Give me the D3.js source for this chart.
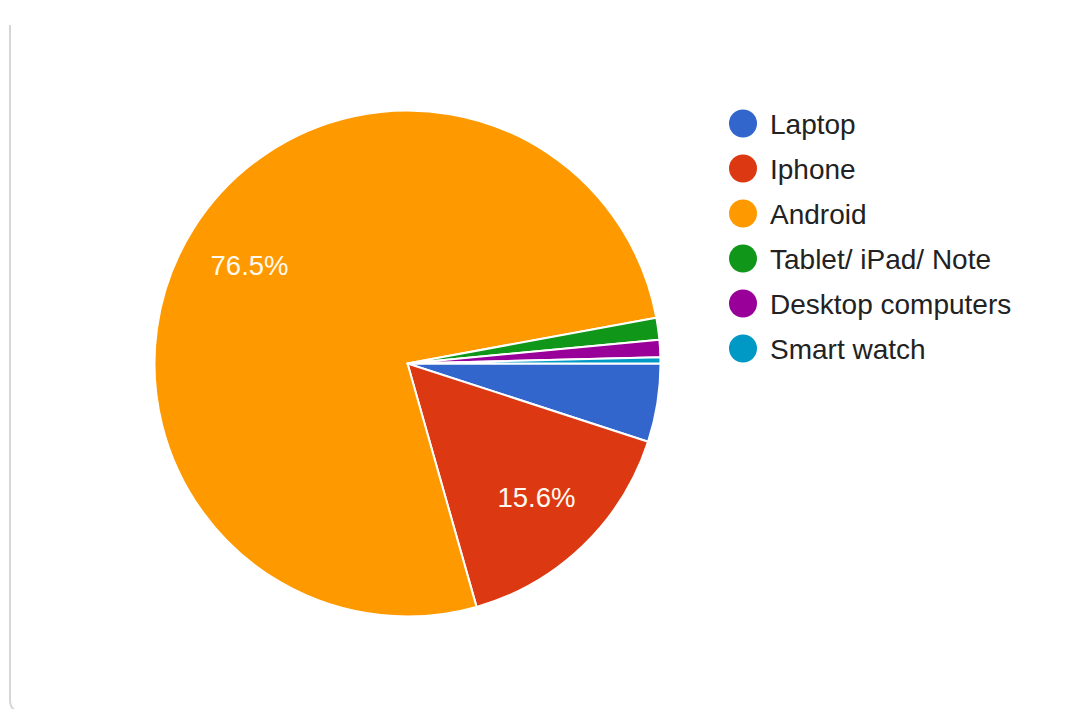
<!DOCTYPE html>
<html>
<head>
<meta charset="utf-8">
<script src="https://cdn.jsdelivr.net/npm/d3@7"></script>
<style>
  html, body { margin: 0; padding: 0; background: #fff; }
  svg { display: block; font-family: "Liberation Sans", Arial, sans-serif; }
</style>
</head>
<body>
<div id="chart"></div>
<script>
// Device share (%)
const categories = ['Laptop', 'Iphone', 'Android', 'Tablet/ iPad/ Note', 'Desktop computers', 'Smart watch'];
const shares = [5.0, 15.6, 76.5, 1.4, 1.1, 0.4];
const colors = ['#3366cc', '#dc3912', '#ff9900', '#109618', '#990099', '#0099c6'];

const width = 1090;
const height = 709;

const svg = d3.select('#chart')
    .append('svg')
    .attr('width', width)
    .attr('height', height);

// Card edge on the left
svg.append('path')
    .attr('d', 'M10,25 L10,700 Q10,709 18,712')
    .attr('fill', 'none')
    .attr('stroke', '#d6d6d6')
    .attr('stroke-width', 2);

const cx = 407.5;
const cy = 363.5;
const radius = 253;

const data = categories.map((name, i) => ({ name, value: shares[i], color: colors[i] }));

// Google-style pie: first slice starts at 3 o'clock, clockwise
const pie = d3.pie()
    .value(d => d.value)
    .sort(null)
    .startAngle(Math.PI / 2)
    .endAngle(Math.PI / 2 + 2 * Math.PI);

const arc = d3.arc().innerRadius(0).outerRadius(radius);
const labelArc = d3.arc().innerRadius(186).outerRadius(186);

const g = svg.append('g').attr('transform', `translate(${cx},${cy})`);

const arcs = pie(data);

g.selectAll('path')
    .data(arcs)
    .enter()
    .append('path')
    .attr('d', arc)
    .attr('fill', d => d.data.color)
    .attr('stroke', '#fff')
    .attr('stroke-width', 2)
    .attr('stroke-linejoin', 'round');

// Percent labels only on the big slices
g.selectAll('text.pct')
    .data(arcs.filter(d => d.data.value >= 10))
    .enter()
    .append('text')
    .attr('class', 'pct')
    .attr('transform', d => `translate(${labelArc.centroid(d)})`)
    .attr('text-anchor', 'middle')
    .attr('dy', '0.36em')
    .style('font-size', '27.5px')
    .style('fill', '#fffaf0')
    .text(d => d.data.value.toFixed(1) + '%');

// Legend
const legend = svg.append('g').attr('transform', 'translate(743,123.5)');

const rows = legend.selectAll('g')
    .data(data)
    .enter()
    .append('g')
    .attr('transform', (d, i) => `translate(0,${i * 45})`);

rows.append('circle')
    .attr('r', 14)
    .attr('fill', d => d.color);

rows.append('text')
    .attr('x', 27)
    .attr('y', 10)
    .style('font-size', '28px')
    .style('fill', '#222')
    .text(d => d.name);
</script>
</body>
</html>
